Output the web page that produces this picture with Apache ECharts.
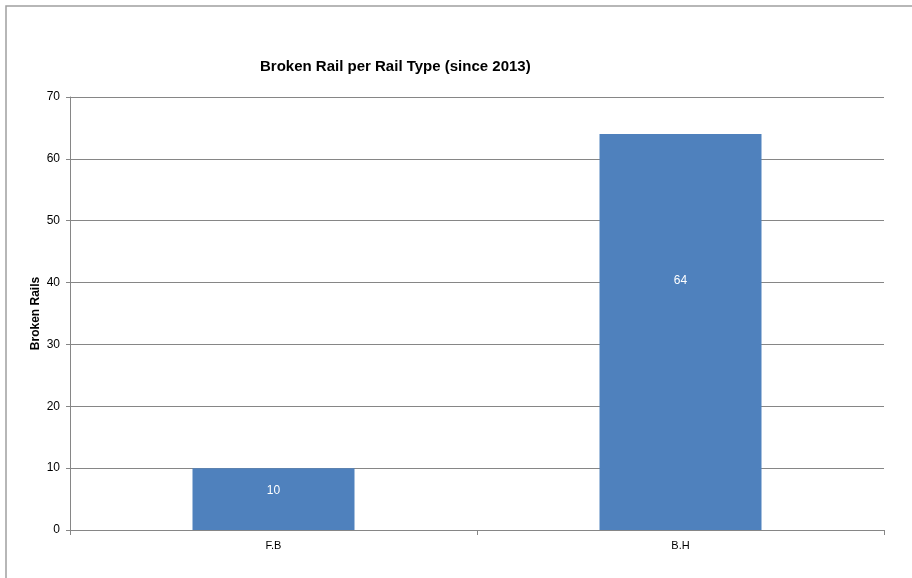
<!DOCTYPE html>
<html>
<head>
<meta charset="utf-8">
<script src="https://cdn.jsdelivr.net/npm/echarts@6/dist/echarts.min.js"></script>
<style>
html,body{margin:0;padding:0;background:#fff;}
#chart{width:912px;height:578px;}
</style>
</head>
<body>
<div id="chart"></div>
<script>
// Broken rails counted per rail type since 2013
const railTypes = ['F.B', 'B.H'];
const brokenRails = [10, 64];
const yTicks = { min: 0, max: 70, step: 10 };

const chart = echarts.init(document.getElementById('chart'), null, { renderer: 'canvas' });
const gridColor = '#868686';
const font = 'Liberation Sans, Arial';

chart.setOption({
  backgroundColor: '#ffffff',
  animation: false,
  graphic: [{
    type: 'rect',
    shape: { x: 6, y: 6, width: 940, height: 620 },
    style: { fill: 'none', stroke: '#a0a0a0', lineWidth: 1.5 },
    silent: true
  }],
  title: {
    text: 'Broken Rail per Rail Type (since 2013)',
    left: 255, top: 54,
    textStyle: { fontFamily: font, fontSize: 15, fontWeight: 'bold', color: '#000' }
  },
  grid: { left: 70, right: 28, top: 97, bottom: 48 },
  xAxis: {
    type: 'category',
    data: railTypes,
    axisLine: { lineStyle: { color: gridColor } },
    axisTick: { show: true, length: 5, lineStyle: { color: gridColor } },
    axisLabel: { fontFamily: font, fontSize: 11, color: '#000', margin: 10 }
  },
  yAxis: {
    type: 'value',
    min: yTicks.min, max: yTicks.max, interval: yTicks.step,
    name: 'Broken Rails',
    nameLocation: 'middle',
    nameGap: 28,
    nameMoveOverlap: false,
    nameTextStyle: { fontFamily: font, fontSize: 12, fontWeight: 'bold', color: '#000' },
    axisLine: { show: true, lineStyle: { color: gridColor } },
    axisTick: { show: true, length: 4, lineStyle: { color: gridColor } },
    axisLabel: { fontFamily: font, fontSize: 12, color: '#000', margin: 10 },
    splitLine: { lineStyle: { color: gridColor, width: 1 } }
  },
  series: [{
    type: 'bar',
    data: brokenRails,
    barWidth: 162,
    itemStyle: { color: '#4F81BD' },
    label: {
      show: true, position: ['50%', '37%'], align: 'center', verticalAlign: 'middle',
      fontFamily: font, fontSize: 12, color: '#ffffff'
    }
  }]
});
</script>
</body>
</html>
